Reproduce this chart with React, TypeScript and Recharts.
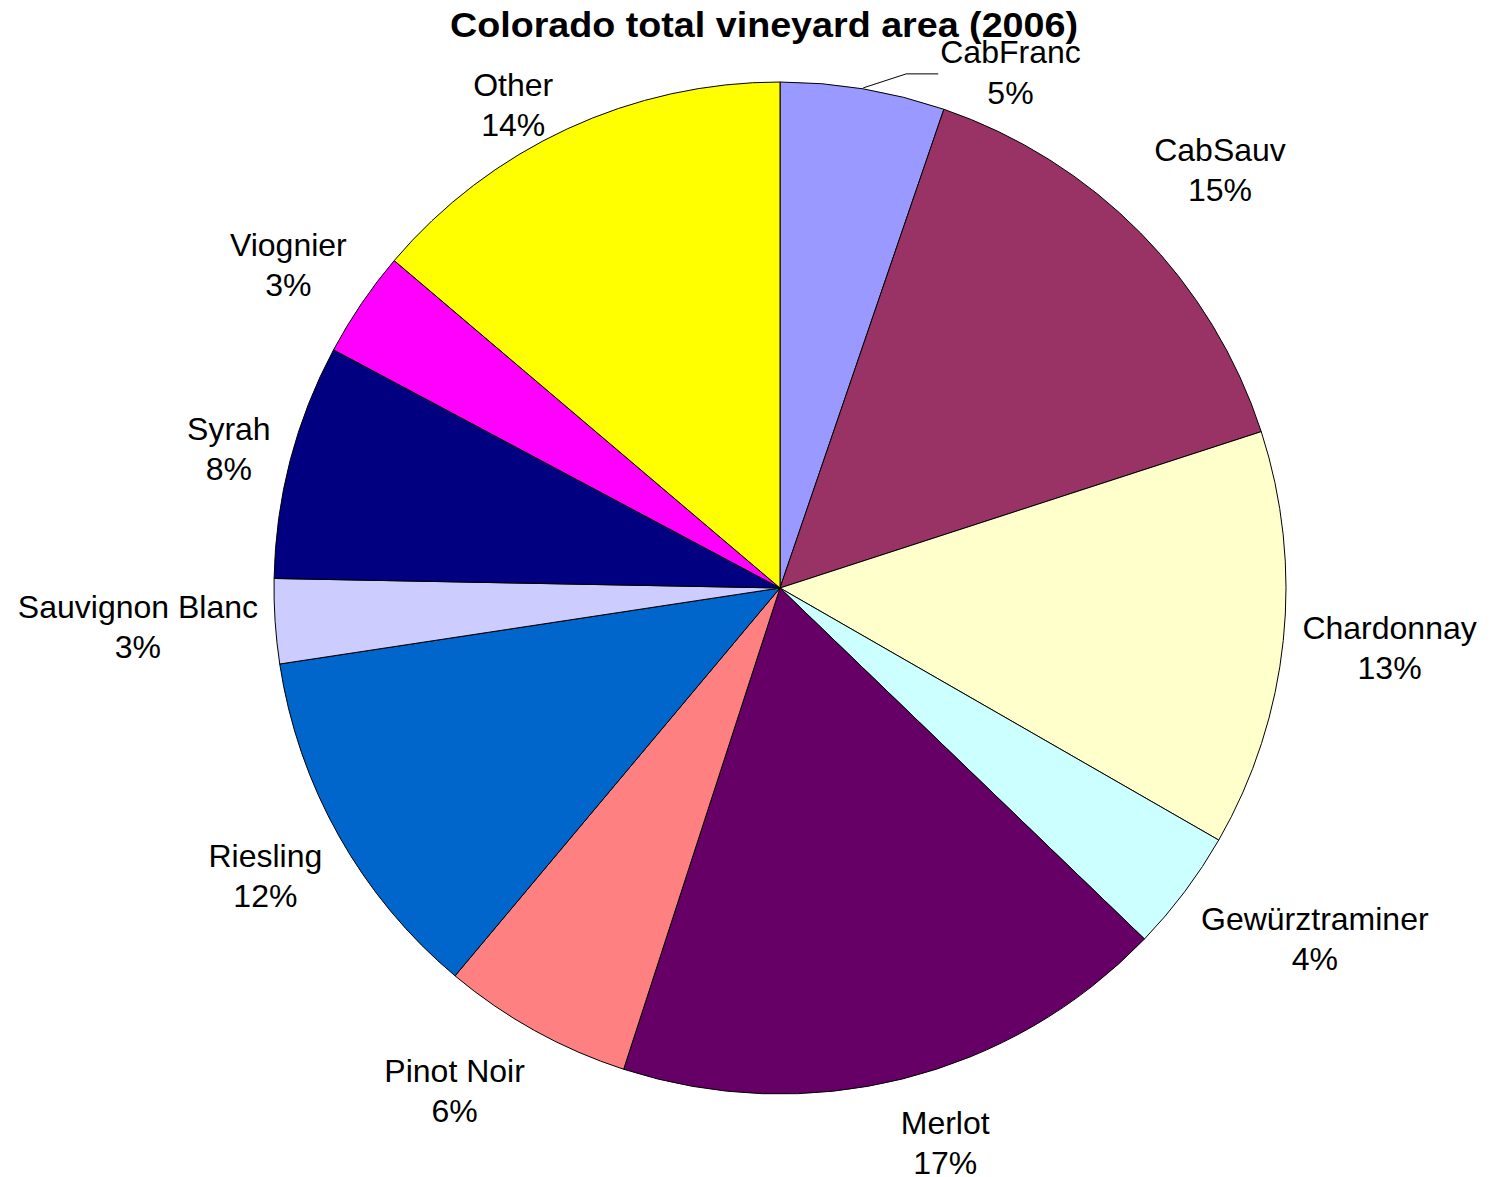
import React from "react";
import { PieChart, Pie, Cell } from "recharts";

const varieties = [
  "CabFranc",
  "CabSauv",
  "Chardonnay",
  "Gewürztraminer",
  "Merlot",
  "Pinot Noir",
  "Riesling",
  "Sauvignon Blanc",
  "Syrah",
  "Viognier",
  "Other",
];
const shares = [5.25, 14.75, 13.3, 3.9, 17.8, 6.1, 11.5, 2.7, 7.5, 3.4, 13.8];
const shownPct = ["5%", "15%", "13%", "4%", "17%", "6%", "12%", "3%", "8%", "3%", "14%"];
const colors = [
  "#9999FF",
  "#993366",
  "#FFFFCC",
  "#CCFFFF",
  "#660066",
  "#FF8080",
  "#0066CC",
  "#CCCCFF",
  "#000080",
  "#FF00FF",
  "#FFFF00",
];

// small layout nudges for the outside labels (pixels)
const labelNudgeX = [-4, 16, 2, 27, 27, -40, -1, -1, 1, -3, -26];
const labelNudgeY = [-2, -1, -3, -30, 2, -12, -1, -3, 5, 9, 37];

const data = varieties.map((name, i) => ({ name, value: shares[i] }));

const FONT = "'Liberation Sans', Arial, sans-serif";
const FS = 32;
const RAD = Math.PI / 180;

let ctx: CanvasRenderingContext2D | null = null;
function measure(t: string): number {
  if (!ctx) {
    const c = document.createElement("canvas");
    ctx = c.getContext("2d");
  }
  if (!ctx) return t.length * FS * 0.55;
  ctx.font = `${FS}px ${FONT}`;
  return ctx.measureText(t).width;
}

const renderLabel = (props: any) => {
  const { cx, cy, midAngle, outerRadius, index } = props;
  const dx = Math.cos(-midAngle * RAD);
  const dy = Math.sin(-midAngle * RAD);
  const name = varieties[index];
  const pct = shownPct[index];
  const w = Math.max(measure(name), measure(pct));
  const h = 80;
  const nx = labelNudgeX[index] || 0;
  const ny = labelNudgeY[index] || 0;
  if (index === 0) {
    const sx = cx + (outerRadius + 1) * dx;
    const sy = cy + (outerRadius + 1) * dy;
    const ex = sx + 43;
    const ey = sy - 14;
    const fx = ex + 32;
    const tx = fx + 6 + w / 2 + nx;
    return (
      <g>
        <polyline
          points={`${sx},${sy} ${ex},${ey} ${fx},${ey}`}
          fill="none"
          stroke="#000"
          strokeWidth={1}
        />
        <text x={tx} y={ey - 20 + ny} textAnchor="middle" dominantBaseline="central" fontFamily={FONT} fontSize={FS} fill="#000">
          {name}
        </text>
        <text x={tx} y={ey + 21 + ny} textAnchor="middle" dominantBaseline="central" fontFamily={FONT} fontSize={FS} fill="#000">
          {pct}
        </text>
      </g>
    );
  }
  const gap = 14;
  const ext = Math.abs(dx) * (w / 2) + Math.abs(dy) * (h / 2);
  const d = outerRadius + gap + ext;
  const x = cx + d * dx + nx;
  const y = cy + d * dy + ny;
  return (
    <g>
      <text x={x} y={y - 20} textAnchor="middle" dominantBaseline="central" fontFamily={FONT} fontSize={FS} fill="#000">
        {name}
      </text>
      <text x={x} y={y + 20} textAnchor="middle" dominantBaseline="central" fontFamily={FONT} fontSize={FS} fill="#000">
        {pct}
      </text>
    </g>
  );
};

export default function App() {
  return (
    <div style={{ position: "absolute", left: 0, top: 0, width: 1499, height: 1177, background: "#fff" }}>
      <PieChart width={1499} height={1177} margin={{ top: 0, right: 0, bottom: 0, left: 0 }}>
        <Pie
          data={data}
          dataKey="value"
          nameKey="name"
          cx={780}
          cy={588}
          outerRadius={506}
          startAngle={90}
          endAngle={-270}
          stroke="#000"
          strokeWidth={1}
          label={renderLabel}
          labelLine={false}
          isAnimationActive={false}
        >
          {data.map((d, i) => (
            <Cell key={d.name} fill={colors[i]} />
          ))}
        </Pie>
      </PieChart>
      <svg width={1499} height={60} style={{ position: "absolute", left: 0, top: 0 }}>
        <text
          x={764}
          y={37}
          textAnchor="middle"
          fontFamily={FONT}
          fontWeight="bold"
          fontSize={35}
          textLength={628}
          lengthAdjust="spacingAndGlyphs"
          fill="#000"
        >
          Colorado total vineyard area (2006)
        </text>
      </svg>
    </div>
  );
}
